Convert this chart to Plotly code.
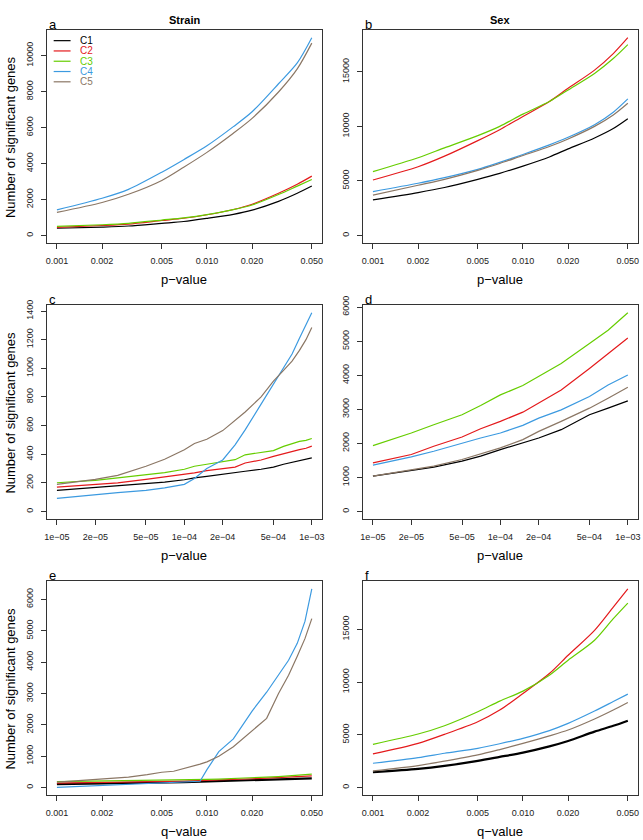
import math
import plotly.graph_objects as go

W, H = 643, 840
FONT = "Liberation Sans, Arial, Helvetica, sans-serif"

series_names = ["C1", "C2", "C3", "C4", "C5"]
series_colors = ["#000000", "#E41A1C", "#66CD00", "#3C9AE0", "#8B7765"]

# ---------------- Panel a : Strain, p-value ----------------
x_a = [0.001, 0.002, 0.003, 0.005, 0.007, 0.010, 0.015, 0.020, 0.030, 0.040, 0.050]
a_C1 = [404, 470, 530, 680, 780, 954, 1180, 1413, 1900, 2350, 2752]
a_C2 = [459, 560, 640, 835, 960, 1156, 1450, 1743, 2350, 2850, 3303]
a_C3 = [510, 600, 680, 860, 980, 1160, 1440, 1700, 2280, 2750, 3119]
a_C4 = [1431, 2073, 2569, 3523, 4220, 4991, 6055, 6881, 8440, 9600, 11000]
a_C5 = [1284, 1835, 2294, 3064, 3798, 4624, 5688, 6514, 7982, 9266, 10697]

# ---------------- Panel b : Sex, p-value ----------------
x_b = [0.001, 0.002, 0.003, 0.005, 0.007, 0.010, 0.015, 0.020, 0.030, 0.040, 0.050]
b_C1 = [3273, 3939, 4400, 5152, 5700, 6364, 7200, 7939, 8939, 9800, 10697]
b_C2 = [5091, 6303, 7273, 8697, 9697, 10909, 12273, 13485, 15152, 16667, 18121]
b_C3 = [5848, 7121, 8030, 9151, 10000, 11121, 12273, 13333, 14848, 16212, 17485]
b_C4 = [4030, 4788, 5300, 6061, 6700, 7424, 8300, 9000, 10152, 11300, 12515]
b_C5 = [3697, 4606, 5150, 5970, 6600, 7333, 8150, 8848, 10000, 11050, 12121]

# ---------------- Panel c : Strain, small p-value ----------------
x_c = [1e-5, 2e-5, 3e-5, 5e-5, 7e-5, 1e-4, 1.2e-4, 1.5e-4, 2e-4, 2.5e-4, 3e-4,
       4e-4, 5e-4, 6e-4, 7e-4, 8e-4, 9e-4, 1e-3]
c_C1 = [147, 166, 178, 194, 205, 222, 235, 245, 258, 272, 281, 295, 310, 330, 345, 355, 365, 375]
c_C2 = [170, 189, 200, 224, 240, 258, 270, 285, 300, 310, 339, 360, 385, 405, 420, 432, 442, 457]
c_C3 = [201, 217, 235, 258, 272, 295, 316, 330, 350, 362, 396, 410, 425, 455, 475, 490, 497, 510]
c_C4 = [92, 120, 132, 147, 165, 190, 230, 300, 360, 466, 570, 750, 890, 1005, 1100, 1210, 1300, 1388]
c_C5 = [189, 224, 252, 316, 365, 431, 475, 505, 565, 640, 695, 800, 910, 985, 1050, 1125, 1200, 1285]

# ---------------- Panel d : Sex, small p-value ----------------
x_d = [1e-5, 2e-5, 3e-5, 5e-5, 7e-5, 1e-4, 1.5e-4, 2e-4, 3e-4, 5e-4, 7e-4, 1e-3]
d_C1 = [1041, 1206, 1304, 1479, 1625, 1819, 2014, 2160, 2403, 2840, 3035, 3249]
d_C2 = [1430, 1673, 1916, 2189, 2432, 2646, 2918, 3181, 3570, 4202, 4640, 5097]
d_C3 = [1936, 2305, 2549, 2840, 3113, 3424, 3700, 3959, 4348, 4932, 5321, 5837]
d_C4 = [1362, 1605, 1770, 2014, 2160, 2305, 2529, 2743, 2986, 3375, 3716, 4008]
d_C5 = [1041, 1235, 1333, 1527, 1693, 1868, 2111, 2354, 2646, 3035, 3327, 3648]

# ---------------- Panel e : Strain, q-value ----------------
x_e = [0.001, 0.002, 0.003, 0.004, 0.005, 0.006, 0.007, 0.008, 0.009, 0.010,
       0.012, 0.015, 0.020, 0.025, 0.030, 0.035, 0.040, 0.045, 0.050]
e_C1 = [110, 125, 140, 150, 160, 168, 175, 182, 188, 195, 205, 215, 230, 245, 255, 265, 275, 283, 290]
e_C2 = [140, 155, 170, 180, 190, 198, 205, 212, 218, 225, 240, 255, 280, 300, 315, 330, 345, 360, 375]
e_C3 = [190, 205, 215, 225, 235, 240, 245, 250, 255, 260, 270, 285, 305, 330, 350, 370, 395, 415, 430]
e_C4 = [5, 60, 95, 120, 140, 155, 170, 180, 200, 570, 1145, 1550, 2440, 3040, 3600, 4060, 4600, 5300, 6341]
e_C5 = [170, 260, 330, 410, 487, 520, 600, 680, 745, 820, 1000, 1300, 1820, 2206, 3001, 3584, 4190, 4750, 5387]

# ---------------- Panel f : Sex, q-value ----------------
x_f = [0.001, 0.002, 0.003, 0.005, 0.007, 0.010, 0.015, 0.020, 0.030, 0.040, 0.050]
f_C1 = [1450, 1765, 2050, 2521, 2900, 3309, 3900, 4412, 5300, 5850, 6335]
f_C2 = [3183, 4191, 5042, 6240, 7343, 8919, 10810, 12543, 14907, 17113, 18846]
f_C3 = [4097, 5074, 5862, 7186, 8194, 9140, 10653, 12070, 13961, 16010, 17491]
f_C4 = [2300, 2836, 3250, 3719, 4150, 4664, 5400, 6082, 7250, 8150, 8856]
f_C5 = [1576, 2080, 2500, 3089, 3600, 4192, 4900, 5452, 6500, 7350, 8068]

# tick labels
p_ticks_big = [0.001, 0.002, 0.005, 0.010, 0.020, 0.050]
p_ticks_big_text = ["0.001", "0.002", "0.005", "0.010", "0.020", "0.050"]
p_ticks_small = [1e-5, 2e-5, 5e-5, 1e-4, 2e-4, 5e-4, 1e-3]
p_ticks_small_text = ["1e\u221205", "2e\u221205", "5e\u221205", "1e\u221204",
                      "2e\u221204", "5e\u221204", "1e\u221203"]
y_ticks_a = [0, 2000, 4000, 6000, 8000, 10000]
y_ticks_b = [0, 5000, 10000, 15000]
y_ticks_c = [0, 200, 400, 600, 800, 1000, 1200, 1400]
y_ticks_d = [0, 1000, 2000, 3000, 4000, 5000, 6000]
y_ticks_e = [0, 1000, 2000, 3000, 4000, 5000, 6000]
y_ticks_f = [0, 5000, 10000, 15000]

panels = [
    dict(letter="a", x=x_a, ys=[a_C1, a_C2, a_C3, a_C4, a_C5], xt=p_ticks_big, xtt=p_ticks_big_text, yt=y_ticks_a, xlab="p\u2212value", row=0, col=0, smooth=True),
    dict(letter="b", x=x_b, ys=[b_C1, b_C2, b_C3, b_C4, b_C5], xt=p_ticks_big, xtt=p_ticks_big_text, yt=y_ticks_b, xlab="p\u2212value", row=0, col=1, smooth=True),
    dict(letter="c", x=x_c, ys=[c_C1, c_C2, c_C3, c_C4, c_C5], xt=p_ticks_small, xtt=p_ticks_small_text, yt=y_ticks_c, xlab="p\u2212value", row=1, col=0, smooth=False),
    dict(letter="d", x=x_d, ys=[d_C1, d_C2, d_C3, d_C4, d_C5], xt=p_ticks_small, xtt=p_ticks_small_text, yt=y_ticks_d, xlab="p\u2212value", row=1, col=1, smooth=False),
    dict(letter="e", x=x_e, ys=[e_C1, e_C2, e_C3, e_C4, e_C5], xt=p_ticks_big, xtt=p_ticks_big_text, yt=y_ticks_e, xlab="q\u2212value", row=2, col=0, smooth=False),
    dict(letter="f", x=x_f, ys=[f_C1, f_C2, f_C3, f_C4, f_C5], xt=p_ticks_big, xtt=p_ticks_big_text, yt=y_ticks_f, xlab="q\u2212value", row=2, col=1, smooth=True),
]

# layout geometry in pixels
col_x = [(45, 322), (363, 640)]
row_y = [(21, 237), (299, 516), (578, 795)]


def fx(p):
    return p / W


def fy(p):
    return 1 - p / H


fig = go.Figure()
layout = dict(
    width=W, height=H,
    margin=dict(l=0, r=0, t=0, b=0),
    paper_bgcolor="white", plot_bgcolor="white",
    showlegend=False,
    font=dict(family=FONT, color="#222222", size=9),
)
annotations = []
shapes = []

for i, p in enumerate(panels):
    n = i + 1
    xa = "x" if n == 1 else f"x{n}"
    ya = "y" if n == 1 else f"y{n}"
    x0, x1 = col_x[p["col"]]
    y0, y1 = row_y[p["row"]]
    lw_thick = p["letter"] in ("e", "f")
    for k, (name, col, yv) in enumerate(zip(series_names, series_colors, p["ys"])):
        w = 1.2
        if k == 0 and lw_thick:
            w = 2.2
        line = dict(color=col, width=w)
        if p["smooth"]:
            line.update(shape="spline", smoothing=0.8)
        fig.add_trace(go.Scatter(x=p["x"], y=yv, mode="lines", name=name,
                                 line=line, xaxis=xa, yaxis=ya, hoverinfo="skip"))
    lx = [math.log10(v) for v in p["x"]]
    span = max(lx) - min(lx)
    M = max(max(s) for s in p["ys"])
    axis_common = dict(showline=True, mirror=True, linecolor="#333333", linewidth=1,
                       ticks="outside", ticklen=5, tickwidth=1, tickcolor="#333333",
                       showgrid=False, zeroline=False,
                       tickfont=dict(family=FONT, size=9, color="#222222"))
    layout["xaxis" if n == 1 else f"xaxis{n}"] = dict(
        axis_common, type="log", domain=[fx(x0), fx(x1)], anchor=ya,
        range=[min(lx) - 0.04 * span, max(lx) + 0.04 * span],
        tickvals=p["xt"], ticktext=p["xtt"], tickangle=0, ticklabelstandoff=4)
    layout["yaxis" if n == 1 else f"yaxis{n}"] = dict(
        axis_common, domain=[fy(y1), fy(y0)], anchor=xa,
        range=[-0.04 * M, 1.04 * M],
        tickvals=p["yt"], ticktext=[str(v) for v in p["yt"]], tickangle=-90,
        ticklabelstandoff=4)
    # panel letter
    annotations.append(dict(text=p["letter"], x=fx(x0), y=fy(y0 - 5), xref="paper", yref="paper",
                            xanchor="left", yanchor="middle", showarrow=False,
                            font=dict(family=FONT, size=13, color="#000000")))
    # x axis title
    annotations.append(dict(text=p["xlab"], x=fx((x0 + x1) / 2), y=fy(y1 + 36), xref="paper", yref="paper",
                            xanchor="center", yanchor="middle", showarrow=False,
                            font=dict(family=FONT, size=13, color="#000000")))
    # y axis title (left column only)
    if p["col"] == 0:
        annotations.append(dict(text="Number of significant genes", x=fx(8.5), y=fy((y0 + y1) / 2),
                                xref="paper", yref="paper", xanchor="center", yanchor="middle",
                                textangle=-90, showarrow=False,
                                font=dict(family=FONT, size=13, color="#000000")))

# column titles
for title, (x0, x1) in zip(["Strain", "Sex"], col_x):
    annotations.append(dict(text=f"<b>{title}</b>", x=fx((x0 + x1) / 2), y=fy(11), xref="paper", yref="paper",
                            xanchor="center", yanchor="middle", showarrow=False,
                            font=dict(family=FONT, size=11, color="#000000")))

# legend (panel a, top-left), drawn as key lines + coloured labels
for k, (name, col) in enumerate(zip(series_names, series_colors)):
    yy = 32 + 10.4 * k
    shapes.append(dict(type="line", xref="paper", yref="paper",
                       x0=fx(52), x1=fx(69), y0=fy(yy), y1=fy(yy),
                       line=dict(color=col, width=1.2)))
    annotations.append(dict(text=name, x=fx(76), y=fy(yy), xref="paper", yref="paper",
                            xanchor="left", yanchor="middle", showarrow=False,
                            font=dict(family=FONT, size=10, color=col)))

layout["annotations"] = annotations
layout["shapes"] = shapes
fig.update_layout(**layout)
fig.write_html("out.html",
               config={"displayModeBar": False},
               post_script="document.body.style.margin='0';document.body.style.overflow='hidden';")
